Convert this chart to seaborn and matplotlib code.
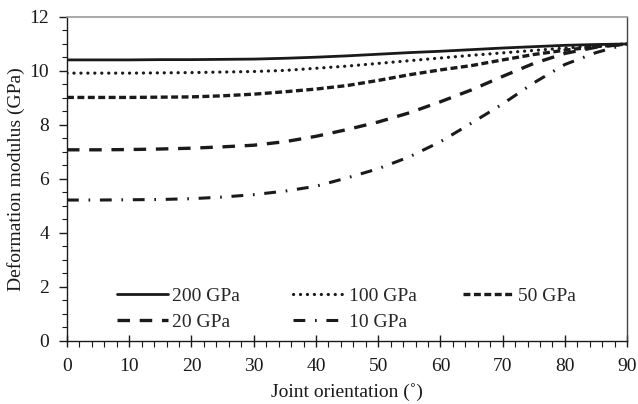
import matplotlib
matplotlib.use("Agg")
import matplotlib.pyplot as plt
import seaborn as sns
import numpy as np
import pandas as pd
from matplotlib.ticker import MultipleLocator

angle = [0, 5, 10, 15, 20, 25, 30, 35, 40, 45, 50, 55, 60, 65, 70, 75, 80, 85, 90]
e_200 = [10.41, 10.41, 10.41, 10.42, 10.42, 10.43, 10.44, 10.47, 10.51, 10.56, 10.62, 10.68, 10.73, 10.79, 10.85, 10.90, 10.95, 10.98, 11.0]
e_100 = [9.92, 9.92, 9.92, 9.93, 9.94, 9.96, 9.98, 10.02, 10.10, 10.18, 10.28, 10.38, 10.48, 10.58, 10.67, 10.76, 10.85, 10.93, 11.0]
e_50 = [9.02, 9.02, 9.02, 9.03, 9.04, 9.08, 9.14, 9.23, 9.33, 9.46, 9.65, 9.86, 10.04, 10.20, 10.41, 10.61, 10.77, 10.90, 11.0]
e_20 = [7.08, 7.08, 7.09, 7.11, 7.14, 7.19, 7.25, 7.38, 7.58, 7.83, 8.11, 8.45, 8.86, 9.30, 9.80, 10.28, 10.65, 10.88, 11.0]
e_10 = [5.22, 5.22, 5.23, 5.24, 5.27, 5.33, 5.42, 5.55, 5.73, 6.04, 6.38, 6.82, 7.38, 8.07, 8.78, 9.56, 10.24, 10.68, 11.0]
labels = ["200 GPa", "100 GPa", "50 GPa", "20 GPa", "10 GPa"]

sns.set_style("ticks")
plt.rcParams["font.family"] = ["Liberation Serif", "DejaVu Serif"]
plt.rcParams["lines.scale_dashes"] = False

fig = plt.figure(figsize=(6.38, 4.04), dpi=100)
ax = fig.add_axes([0.105, 0.156, 0.878, 0.802])

styles = {
    "200 GPa": dict(linestyle="-", lw=2.0),
    "100 GPa": dict(linestyle=(0, (0.1, 4.9)), lw=2.3, dash_capstyle="round"),
    "50 GPa": dict(linestyle=(0, (5.0, 2.5)), lw=2.4),
    "20 GPa": dict(linestyle=(0, (9.0, 7.0)), lw=2.4),
    "10 GPa": dict(linestyle=(0, (8.5, 7.0, 1.2, 7.0)), lw=2.2),
}
series = [e_200, e_100, e_50, e_20, e_10]
lines = {}
for lab, vals in zip(labels, series):
    df = pd.DataFrame({"angle": angle, "E": vals})
    sns.lineplot(data=df, x="angle", y="E", ax=ax, color="#1a1a1a", legend=False, **styles[lab])
    lines[lab] = ax.get_lines()[-1]

ax.set_xlim(0, 90)
ax.set_ylim(0, 12)
ax.xaxis.set_major_locator(MultipleLocator(10))
ax.xaxis.set_minor_locator(MultipleLocator(2))
ax.yaxis.set_major_locator(MultipleLocator(2))
ax.yaxis.set_minor_locator(MultipleLocator(0.5))
ax.tick_params(axis="x", which="major", direction="inout", length=8, width=1, labelsize=14, pad=8, colors="#1a1a1a")
ax.tick_params(axis="x", which="minor", direction="out", length=4, width=0.8, colors="#1a1a1a")
ax.tick_params(axis="y", which="major", direction="out", length=6, width=1, labelsize=14, pad=7, colors="#1a1a1a")
ax.tick_params(axis="y", which="minor", direction="out", length=3.5, width=0.8, colors="#1a1a1a")
for s in ["left", "bottom"]:
    ax.spines[s].set_color("#1a1a1a")
    ax.spines[s].set_linewidth(1.0)
ax.spines["top"].set_color("#999999")
ax.spines["top"].set_linewidth(1.2)
ax.spines["right"].set_color("#444444")
ax.spines["right"].set_linewidth(1.0)

ax.set_xlabel("Joint orientation (˚)", fontsize=14, color="#1a1a1a", labelpad=6)
ax.set_ylabel("Deformation modulus (GPa)", fontsize=14, color="#1a1a1a", labelpad=3)

columns = [(["200 GPa", "20 GPa"], 0.089), (["100 GPa", "10 GPa"], 0.404), (["50 GPa"], 0.707)]
for i, (keys, xa) in enumerate(columns):
    leg = ax.legend([lines[k] for k in keys], keys, ncol=1, frameon=False, fontsize=14,
                    loc="upper left", bbox_to_anchor=(xa, 0.166), borderaxespad=0, borderpad=0,
                    handlelength=2.65, handletextpad=0.2, labelspacing=0.45)
    if i < len(columns) - 1:
        ax.add_artist(leg)

fig.savefig("out.png", dpi=100)
